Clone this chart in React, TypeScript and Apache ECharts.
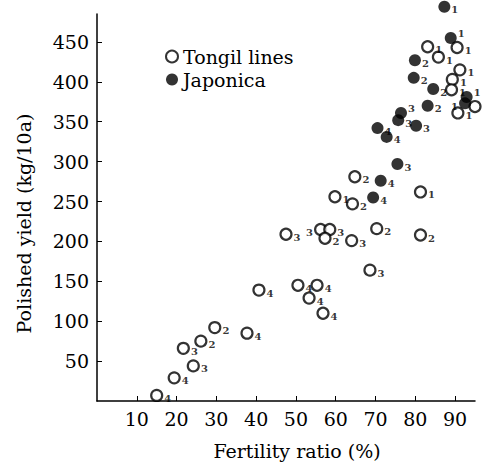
import React, { useEffect, useRef } from "react";
import * as echarts from "echarts";

// Tongil lines (open circles)
const tongilX = [83.1, 90.5, 85.8, 91.2, 89.3, 89.1, 95.0, 90.7, 64.8, 81.3, 59.8, 64.2, 70.3, 81.3, 47.5, 56.2, 58.5, 57.3, 64.0, 68.6, 50.5, 55.3, 53.3, 56.8, 40.7, 37.7, 29.6, 26.1, 21.7, 24.2, 19.4, 15.0];
const tongilY = [444, 443, 431, 415, 403, 390, 369, 361, 281, 262, 256, 247, 216, 208, 209, 215, 215, 204, 201, 164, 145, 145, 129, 110, 139, 85, 92, 75, 66, 44, 29, 7];
const tongilTag = ["1", "1", "1", "1", "1", "1", "", "1", "2", "1", "1", "2", "2", "2", "3", "3", "3", "2", "3", "3", "4", "4", "4", "4", "4", "4", "2", "2", "3", "3", "4", "4"];

// Japonica (filled circles)
const japX = [87.3, 88.9, 79.9, 79.6, 84.5, 92.9, 92.5, 83.1, 76.4, 75.7, 80.2, 70.5, 72.8, 75.5, 71.3, 69.4];
const japY = [494, 455, 427, 405, 391, 381, 373, 370, 361, 352, 345, 342, 331, 297, 276, 255];
const japTag = ["1", "1", "2", "2", "2", "1", "1", "2", "3", "3", "3", "4", "4", "3", "4", "4"];

const xTicks = [10, 20, 30, 40, 50, 60, 70, 80, 90];
const yTicks = [50, 100, 150, 200, 250, 300, 350, 400, 450];

// tags drawn on the left of their mark, or raised
const tongilTagLeft = [15];
const japTagLeft = [6];
const japTagRaised = [1, 5, 8];

const FONT = "'DejaVu Serif', 'Liberation Serif', serif";

export default function App() {
  const ref = useRef<HTMLDivElement>(null);
  useEffect(() => {
    document.body.style.margin = "0";
    if (!ref.current) return;
    const chart = echarts.init(ref.current, undefined, { renderer: "svg" });
    const mk = (xs: number[], ys: number[], tags: string[], left: number[], raised: number[]) =>
      xs.map((x, i) => {
        const item: any = { value: [x, ys[i], tags[i]] };
        if (left.includes(i)) item.label = { position: "left", offset: [0, 3] };
        else if (raised.includes(i)) item.label = { offset: [0, -4] };
        return item;
      });
    const tongil = mk(tongilX, tongilY, tongilTag, tongilTagLeft, []);
    const jap = mk(japX, japY, japTag, japTagLeft, japTagRaised);
    const tagLabel = {
      show: true,
      position: "right",
      distance: 1,
      offset: [0, 3],
      formatter: (p: any) => p.value[2],
      fontSize: 10,
      fontWeight: "bold",
      color: "#000",
      fontFamily: FONT,
    };
    chart.setOption({
      animation: false,
      backgroundColor: "#fff",
      grid: { left: 97, right: 7, top: 14, bottom: 64 },
      legend: {
        orient: "vertical",
        left: 160,
        top: 42,
        itemGap: 4,
        itemWidth: 12,
        itemHeight: 12,
        textStyle: { fontFamily: FONT, fontSize: 19, color: "#000" },
        data: [
          { name: "Tongil lines", icon: "circle" },
          { name: "Japonica", icon: "circle" },
        ],
      },
      xAxis: {
        type: "value",
        min: 0,
        max: 95,
        name: "Fertility ratio (%)",
        nameLocation: "middle",
        nameGap: 40,
        nameTextStyle: { fontFamily: FONT, fontSize: 19, color: "#000", padding: [0, 0, 0, 22] },
        splitLine: { show: false },
        axisLine: { onZero: false, lineStyle: { color: "#000", width: 1.5 } },
        axisTick: { inside: true, length: 5, customValues: xTicks, lineStyle: { color: "#000" } },
        axisLabel: { customValues: xTicks, margin: 8, fontFamily: FONT, fontSize: 19, color: "#000" },
      },
      yAxis: {
        type: "value",
        min: 0,
        max: 485,
        name: "Polished yield (kg/10a)",
        nameLocation: "middle",
        nameGap: 64,
        nameTextStyle: { fontFamily: FONT, fontSize: 19, color: "#000", padding: [0, 32, 0, 0] },
        splitLine: { show: false },
        axisLine: { onZero: false, lineStyle: { color: "#000", width: 1.5 } },
        axisTick: { inside: true, length: 5, customValues: yTicks, lineStyle: { color: "#000" } },
        axisLabel: { customValues: yTicks, margin: 8, fontFamily: FONT, fontSize: 19, color: "#000" },
      },
      series: [
        {
          name: "Tongil lines",
          type: "scatter",
          clip: false,
          symbol: "circle",
          symbolSize: 11,
          itemStyle: { color: "#fff", borderColor: "#000", borderWidth: 2.2 },
          label: tagLabel,
          data: tongil,
        },
        {
          name: "Japonica",
          type: "scatter",
          clip: false,
          symbol: "circle",
          symbolSize: 12,
          itemStyle: { color: "#000" },
          label: tagLabel,
          data: jap,
        },
      ],
    });
    return () => chart.dispose();
  }, []);
  return <div ref={ref} style={{ width: 482, height: 465 }} />;
}
